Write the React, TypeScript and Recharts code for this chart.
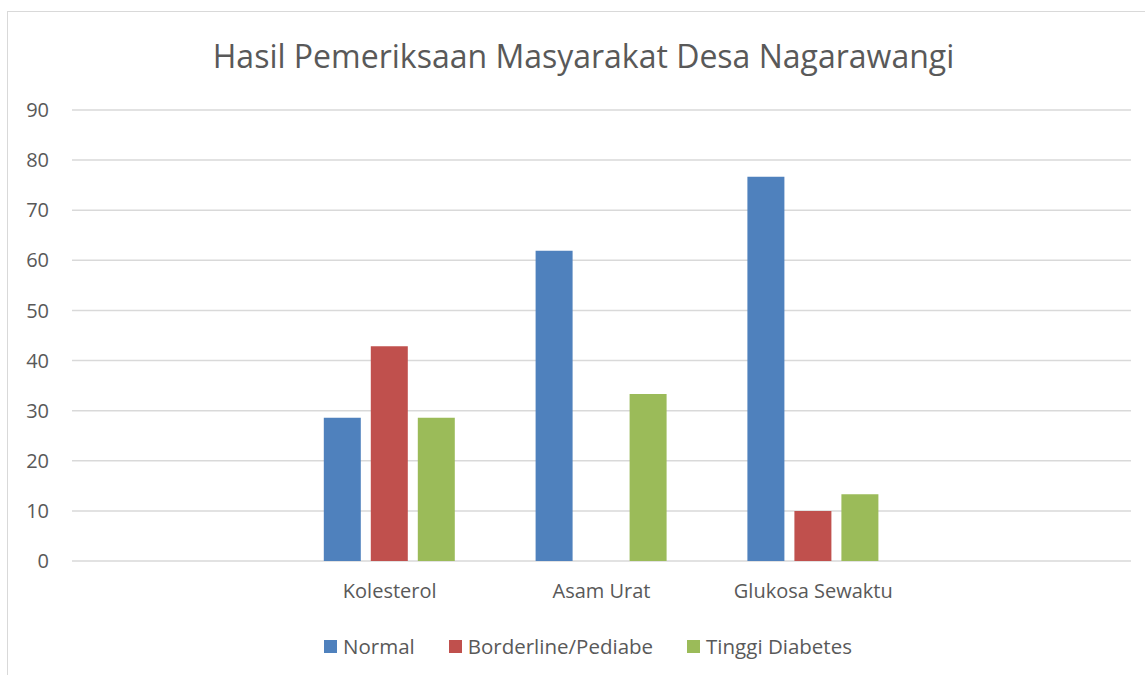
import React from "react";
import { BarChart, Bar, XAxis, YAxis, CartesianGrid, Legend } from "recharts";

const TITLE = "Hasil Pemeriksaan Masyarakat Desa Nagarawangi";
const categories = ["", "Kolesterol", "Asam Urat", "Glukosa Sewaktu", ""];
const normal = [null, 28.57, 61.9, 76.67, null];
const borderline = [null, 42.86, 0, 10, null];
const tinggi = [null, 28.57, 33.33, 13.33, null];
const yTicks = [0, 10, 20, 30, 40, 50, 60, 70, 80, 90];

const SERIES = [
  { key: "normal", name: "Normal", color: "#4f81bd" },
  { key: "borderline", name: "Borderline/Pediabe", color: "#c0504d" },
  { key: "tinggi", name: "Tinggi Diabetes", color: "#9bbb59" },
];

const FONT = "'Open Sans', sans-serif";
const TEXT = "#595959";

const data = categories.map((c, i) => ({
  category: c,
  normal: normal[i],
  borderline: borderline[i],
  tinggi: tinggi[i],
}));

function LegendContent() {
  return (
    <div style={{ display: "flex", justifyContent: "center", fontFamily: FONT, fontSize: 20.5, color: TEXT }}>
      {SERIES.map((s) => (
        <div key={s.key} style={{ display: "flex", alignItems: "center", margin: "0 17px" }}>
          <span style={{ width: 13, height: 13, background: s.color, marginRight: 6, display: "inline-block" }} />
          <span>{s.name}</span>
        </div>
      ))}
    </div>
  );
}

export default function App() {
  return (
    <div style={{ position: "absolute", left: 0, top: 0, width: 1145, height: 675, overflow: "hidden", background: "#fff" }}>
      <div
        style={{
          position: "absolute",
          left: 7,
          top: 11,
          width: 1160,
          height: 700,
          border: "1.5px solid #d9d9d9",
        }}
      />
      <div
        style={{
          position: "absolute",
          left: 0,
          top: 34,
          width: 1167,
          textAlign: "center",
          fontFamily: FONT,
          fontSize: 32,
          color: TEXT,
        }}
      >
        {TITLE}
      </div>
      <div style={{ position: "absolute", left: 0, top: 0 }}>
        <BarChart
          width={1145}
          height={675}
          data={data}
          margin={{ top: 110, right: 14, left: 0, bottom: 56 }}
          barSize={37}
          barGap={10}
        >
          <CartesianGrid vertical={false} stroke="#d9d9d9" strokeWidth={1.5} />
          <XAxis
            dataKey="category"
            axisLine={false}
            tickLine={false}
            tickSize={0}
            tickMargin={23}
            interval={0}
            tick={{ fontFamily: FONT, fontSize: 20, fill: TEXT }}
          />
          <YAxis
            domain={[0, 90]}
            ticks={yTicks}
            axisLine={false}
            tickLine={false}
            tickSize={0}
            tickMargin={23}
            width={72}
            tick={{ fontFamily: FONT, fontSize: 20, fill: TEXT }}
          />
          <Legend content={<LegendContent />} wrapperStyle={{ top: 632, left: 0, width: 1176 }} />
          {SERIES.map((s) => (
            <Bar key={s.key} dataKey={s.key} name={s.name} fill={s.color} isAnimationActive={false} />
          ))}
        </BarChart>
      </div>
    </div>
  );
}
